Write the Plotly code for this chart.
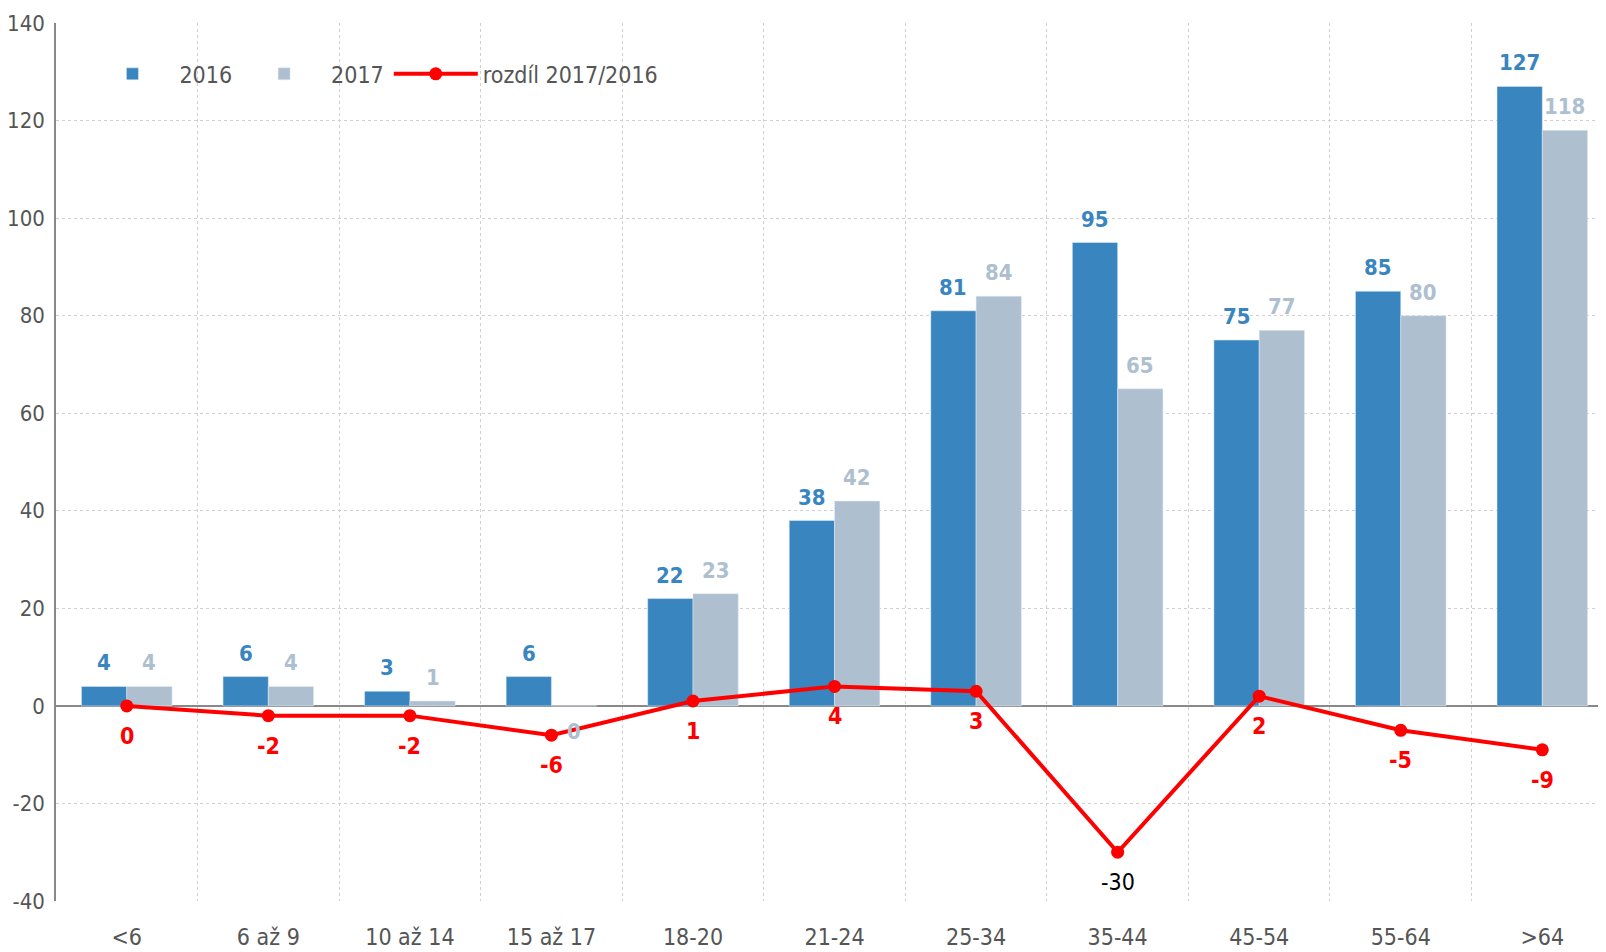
import plotly.graph_objects as go

categories = ["<6", "6 až 9", "10 až 14", "15 až 17", "18-20", "21-24", "25-34", "35-44", "45-54", "55-64", ">64"]
values_2016 = [4, 6, 3, 6, 22, 38, 81, 95, 75, 85, 127]
values_2017 = [4, 4, 1, 0, 23, 42, 84, 65, 77, 80, 118]
diff = [0, -2, -2, -6, 1, 4, 3, -30, 2, -5, -9]
y_ticks = [-40, -20, 0, 20, 40, 60, 80, 100, 120, 140]

FONT = "DejaVu Sans Condensed, Roboto, sans-serif"
C16 = "#3885bf"
C17 = "#aebfd0"
RED = "#ff0000"

# page body has an 8px margin, so the figure is 8px smaller than the window
W, H = 1598, 944
ML, MR, MT, MB = 48, 0, 15, 51
X_RANGE = [-0.5, 10.45]
BAND_PX = (W - ML - MR) / (X_RANGE[1] - X_RANGE[0])
BARGAP = 0.36
HALF_OFF = BAND_PX * (1 - BARGAP) / 4

fig = go.Figure()
fig.add_trace(go.Bar(x=categories, y=values_2016, name="2016", marker_color=C16))
fig.add_trace(go.Bar(x=categories, y=values_2017, name="2017", marker_color=C17))
fig.add_trace(go.Scatter(
    x=categories, y=diff, name="rozdíl 2017/2016", mode="lines+markers",
    line=dict(color=RED, width=4), marker=dict(color=RED, size=13),
    cliponaxis=False,
))

for vals, col, sh in ((values_2016, C16, -HALF_OFF), (values_2017, C17, HALF_OFF)):
    for c, v in zip(categories, vals):
        if v > 0:
            fig.add_annotation(x=c, y=v, text=str(v), showarrow=False,
                               xshift=sh, yshift=9, yanchor="bottom",
                               font=dict(family=FONT, size=22, color=col, weight="bold"))
        else:
            fig.add_annotation(x=c, y=v, text=str(v), showarrow=False,
                               xshift=sh, yshift=-11, yanchor="top",
                               font=dict(family=FONT, size=22, color=col, weight="bold"))

mn = min(diff)
for c, v in zip(categories, diff):
    is_min = v == mn
    fig.add_annotation(
        x=c, y=v, text=str(v), showarrow=False, yshift=-30,
        font=dict(family=FONT, size=23, color="#000000" if is_min else RED,
                  weight="normal" if is_min else "bold"),
    )

fig.update_layout(
    width=W, height=H,
    margin=dict(l=ML, r=MR, t=MT, b=MB),
    paper_bgcolor="white", plot_bgcolor="white",
    barmode="group", bargap=BARGAP, bargroupgap=0,
    font=dict(family=FONT, size=23, color="#555555"),
    legend=dict(orientation="h", x=0.019, y=0.942, xanchor="left", yanchor="middle",
                font=dict(family=FONT, size=23, color="#555555"),
                bgcolor="rgba(0,0,0,0)", itemwidth=84),
    showlegend=True,
    xaxis=dict(
        type="category", range=X_RANGE, tickson="boundaries", automargin=False,
        showgrid=True, gridcolor="#d0d0d0", griddash="dot", gridwidth=1,
        ticks="", showline=False, zeroline=False, ticklabelstandoff=20,
        tickfont=dict(family=FONT, size=23, color="#555555"),
    ),
    yaxis=dict(
        range=[-40, 140], tickvals=y_ticks, ticktext=[str(v) for v in y_ticks],
        automargin=False, showgrid=True,
        gridcolor="#d0d0d0", griddash="dot", gridwidth=1,
        zeroline=True, zerolinecolor="#888888", zerolinewidth=1.5,
        showline=True, linecolor="#888888", linewidth=1.5,
        ticks="", ticklabelstandoff=5,
        tickfont=dict(family=FONT, size=22, color="#555555"),
    ),
)

fig.write_html("out.html")
